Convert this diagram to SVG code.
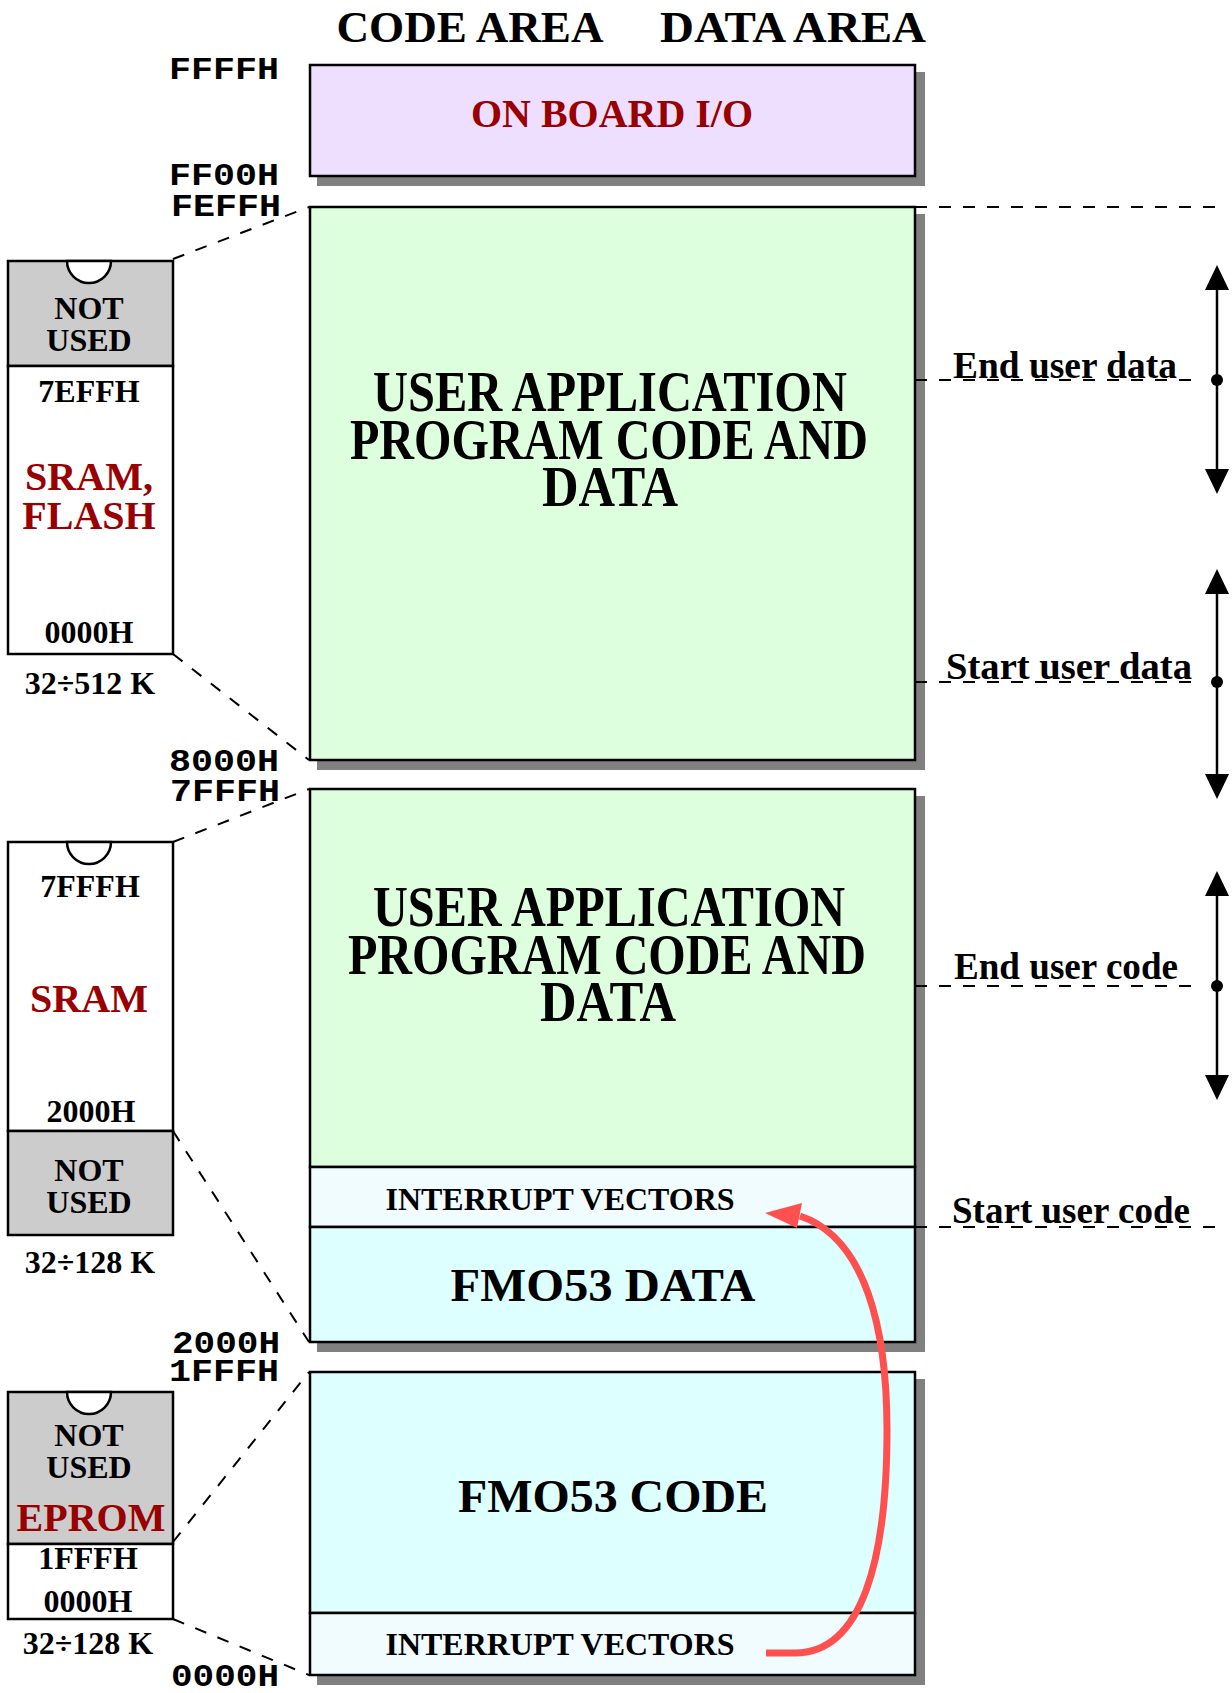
<svg xmlns="http://www.w3.org/2000/svg" width="1232" height="1693" viewBox="0 0 1232 1693">
<defs>
<style>
.t{font-family:"Liberation Serif","Times New Roman",serif;font-weight:bold;fill:#000}
.red{fill:#990000}
.mono{font-family:"Liberation Mono","Courier New",monospace;font-weight:bold;font-size:32px;fill:#000;text-anchor:end}
.box{stroke:#000;stroke-width:2.5}
.shadow{fill:#808080}
.chip{stroke:#000;stroke-width:2.5}
.dash{stroke:#000;stroke-width:2;stroke-dasharray:12 12;fill:none}
.c{text-anchor:middle}
.arr{stroke:#000;stroke-width:2.5}
</style>
</defs>
<rect width="1232" height="1693" fill="#fff"/>

<!-- titles -->
<text class="t c" x="470" y="42" font-size="45" textLength="267" lengthAdjust="spacingAndGlyphs">CODE AREA</text>
<text class="t c" x="793" y="42" font-size="45" textLength="266" lengthAdjust="spacingAndGlyphs">DATA AREA</text>

<!-- address labels -->
<g id="addr">
<text class="mono" x="279" y="79" textLength="110" lengthAdjust="spacingAndGlyphs">FFFFH</text>
<text class="mono" x="279" y="185" textLength="110" lengthAdjust="spacingAndGlyphs">FF00H</text>
<text class="mono" x="281" y="216" textLength="110" lengthAdjust="spacingAndGlyphs">FEFFH</text>
<text class="mono" x="279" y="771" textLength="110" lengthAdjust="spacingAndGlyphs">8000H</text>
<text class="mono" x="280" y="801" textLength="110" lengthAdjust="spacingAndGlyphs">7FFFH</text>
<text class="mono" x="280" y="1353" textLength="108" lengthAdjust="spacingAndGlyphs">2000H</text>
<text class="mono" x="279" y="1381" textLength="110" lengthAdjust="spacingAndGlyphs">1FFFH</text>
<text class="mono" x="279" y="1686" textLength="108" lengthAdjust="spacingAndGlyphs">0000H</text>
</g>

<!-- on board I/O -->
<g id="io">
<rect class="shadow" x="317" y="72" width="608" height="114"/>
<rect class="box" x="310" y="65" width="605" height="111" fill="#EEDEFF"/>
<text class="t red c" x="612" y="127" font-size="41" textLength="282" lengthAdjust="spacingAndGlyphs">ON BOARD I/O</text>
</g>

<!-- user app data area -->
<g id="user-data">
<rect class="shadow" x="317" y="214" width="608" height="556"/>
<rect class="box" x="310" y="207" width="605" height="553" fill="#DDFFDD"/>
<text class="t c" font-size="48" textLength="474" lengthAdjust="spacingAndGlyphs" transform="translate(610,411) scale(1,1.17)">USER APPLICATION</text>
<text class="t c" font-size="48" textLength="518" lengthAdjust="spacingAndGlyphs" transform="translate(609,459) scale(1,1.17)">PROGRAM CODE AND</text>
<text class="t c" font-size="48" textLength="136" lengthAdjust="spacingAndGlyphs" transform="translate(610,506) scale(1,1.17)">DATA</text>
</g>

<!-- user app code area -->
<g id="user-code">
<rect class="shadow" x="317" y="796" width="608" height="556"/>
<rect class="box" x="310" y="789" width="605" height="378" fill="#DDFFDD"/>
<text class="t c" font-size="48" textLength="472" lengthAdjust="spacingAndGlyphs" transform="translate(609,926) scale(1,1.17)">USER APPLICATION</text>
<text class="t c" font-size="48" textLength="518" lengthAdjust="spacingAndGlyphs" transform="translate(607,974) scale(1,1.17)">PROGRAM CODE AND</text>
<text class="t c" font-size="48" textLength="136" lengthAdjust="spacingAndGlyphs" transform="translate(608,1021) scale(1,1.17)">DATA</text>
</g>
<g id="int-vec-1">
<rect class="box" x="310" y="1167" width="605" height="60" fill="#F0FCFF"/>
<text class="t c" x="560" y="1210" font-size="31" textLength="349" lengthAdjust="spacingAndGlyphs">INTERRUPT VECTORS</text>
</g>
<g id="fmo53-data">
<rect class="box" x="310" y="1227" width="605" height="115" fill="#DDFFFF"/>
<text class="t c" x="603" y="1301" font-size="47" textLength="305" lengthAdjust="spacingAndGlyphs">FMO53 DATA</text>
</g>

<!-- fmo53 code -->
<g id="fmo53-code">
<rect class="shadow" x="317" y="1379" width="608" height="306"/>
<rect class="box" x="310" y="1372" width="605" height="241" fill="#DDFFFF"/>
<text class="t c" x="613" y="1512" font-size="47" textLength="310" lengthAdjust="spacingAndGlyphs">FMO53 CODE</text>
</g>
<g id="int-vec-2">
<rect class="box" x="310" y="1613" width="605" height="62" fill="#F0FCFF"/>
<text class="t c" x="560" y="1655" font-size="31" textLength="349" lengthAdjust="spacingAndGlyphs">INTERRUPT VECTORS</text>
</g>

<!-- chip 1 -->
<g id="chip1">
<rect class="chip" x="8" y="261" width="165" height="105" fill="#CCCCCC"/>
<rect class="chip" x="8" y="366" width="165" height="288" fill="#FFFFFF"/>
<path d="M67,261 A22,22 0 0 0 111,261 Z" fill="#fff" stroke="#000" stroke-width="2.5"/>
<text class="t c" x="89" y="319" font-size="32">NOT</text>
<text class="t c" x="89" y="351" font-size="32">USED</text>
<text class="t c" x="89" y="402" font-size="32">7EFFH</text>
<text class="t red c" x="89" y="490" font-size="40">SRAM,</text>
<text class="t red c" x="89" y="529" font-size="40">FLASH</text>
<text class="t c" x="89" y="643" font-size="32">0000H</text>
<text class="t c" x="90" y="694" font-size="32">32÷512 K</text>
</g>

<!-- chip 2 -->
<g id="chip2">
<rect class="chip" x="8" y="842" width="165" height="289" fill="#FFFFFF"/>
<rect class="chip" x="8" y="1131" width="165" height="104" fill="#CCCCCC"/>
<path d="M67,842 A22,22 0 0 0 111,842 Z" fill="#fff" stroke="#000" stroke-width="2.5"/>
<text class="t c" x="90" y="897" font-size="32">7FFFH</text>
<text class="t red c" x="89" y="1012" font-size="40">SRAM</text>
<text class="t c" x="91" y="1122" font-size="32">2000H</text>
<text class="t c" x="89" y="1181" font-size="32">NOT</text>
<text class="t c" x="89" y="1213" font-size="32">USED</text>
<text class="t c" x="90" y="1273" font-size="32">32÷128 K</text>
</g>

<!-- chip 3 -->
<g id="chip3">
<rect class="chip" x="8" y="1392" width="165" height="152" fill="#CCCCCC"/>
<rect class="chip" x="8" y="1544" width="165" height="75" fill="#FFFFFF"/>
<path d="M67,1392 A22,22 0 0 0 111,1392 Z" fill="#fff" stroke="#000" stroke-width="2.5"/>
<text class="t c" x="89" y="1446" font-size="32">NOT</text>
<text class="t c" x="89" y="1478" font-size="32">USED</text>
<text class="t red c" x="91" y="1531" font-size="40">EPROM</text>
<text class="t c" x="88" y="1569" font-size="32">1FFFH</text>
<text class="t c" x="88" y="1612" font-size="32">0000H</text>
<text class="t c" x="88" y="1654" font-size="32">32÷128 K</text>
</g>

<!-- right side labels -->
<g id="labels">
<text class="t" x="953" y="378" font-size="37" textLength="224" lengthAdjust="spacingAndGlyphs">End user data</text>
<text class="t" x="946" y="679" font-size="37" textLength="246" lengthAdjust="spacingAndGlyphs">Start user data</text>
<text class="t" x="954" y="979" font-size="37" textLength="224" lengthAdjust="spacingAndGlyphs">End user code</text>
<text class="t" x="952" y="1223" font-size="37" textLength="238" lengthAdjust="spacingAndGlyphs">Start user code</text>
</g>

<!-- connectors -->
<g id="connectors">
<line class="dash" x1="173" y1="259" x2="309" y2="207"/>
<line class="dash" x1="173" y1="654" x2="309" y2="760"/>
<line class="dash" x1="173" y1="842" x2="309" y2="789"/>
<line class="dash" x1="173" y1="1131" x2="309" y2="1342"/>
<line class="dash" x1="173" y1="1542" x2="309" y2="1372"/>
<line class="dash" x1="173" y1="1619" x2="309" y2="1675"/>

<line class="dash" x1="915" y1="207" x2="1215" y2="207"/>
<line class="dash" x1="915" y1="380" x2="1195" y2="380"/>
<line class="dash" x1="915" y1="682" x2="1195" y2="682"/>
<line class="dash" x1="915" y1="986" x2="1195" y2="986"/>
<line class="dash" x1="915" y1="1227" x2="1215" y2="1227"/>

<line class="arr" x1="1217" y1="285" x2="1217" y2="474"/>
<polygon points="1217,265 1205,290 1229,290"/>
<polygon points="1217,494 1205,469 1229,469"/>
<circle cx="1217" cy="380" r="6"/>

<line class="arr" x1="1217" y1="589" x2="1217" y2="779"/>
<polygon points="1217,569 1205,594 1229,594"/>
<polygon points="1217,799 1205,774 1229,774"/>
<circle cx="1217" cy="682" r="6"/>

<line class="arr" x1="1217" y1="891" x2="1217" y2="1080"/>
<polygon points="1217,871 1205,896 1229,896"/>
<polygon points="1217,1100 1205,1075 1229,1075"/>
<circle cx="1217" cy="986" r="6"/>

<path d="M766,1653 L795,1653 C862,1653 887,1560 887,1430 C887,1330 866,1238 800,1216" fill="none" stroke="#FF5050" stroke-width="7"/>
<polygon points="765,1213 802,1203 797,1228" fill="#FF5050"/>
</g>
</svg>
